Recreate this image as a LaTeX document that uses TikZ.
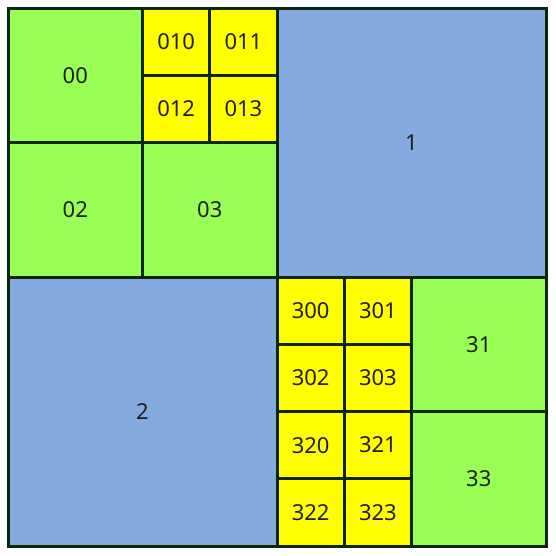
\documentclass[tikz,border=0pt]{standalone}
\usepackage{fontspec}
\setmainfont{Noto Sans}
\usepackage{xcolor}
\definecolor{leafGreen}{RGB}{154,255,85}
\definecolor{leafBlue}{RGB}{133,170,221}
\definecolor{leafYellow}{RGB}{255,255,0}
\definecolor{gridDark}{RGB}{12,38,12}

\begin{document}
\begin{tikzpicture}[x=1pt, y=-1pt,
    cell/.style={draw=gridDark, line width=3pt, inner sep=0pt, outer sep=0pt,
        anchor=north west, font=\fontsize{22}{22}\selectfont, text=black!88},
    big/.style={cell, fill=leafBlue, minimum width=269pt, minimum height=269pt},
    mid/.style={cell, fill=leafGreen, minimum width=134.5pt, minimum height=134.5pt},
    small/.style={cell, fill=leafYellow, minimum width=67.25pt, minimum height=67.25pt}]
    \newcommand\ox{8}
    \newcommand\h{269}
    \newcommand\q{134.5}
    \newcommand\e{67.25}

    \useasboundingbox (0,0) rectangle (556,555);

    % first level
    \node[big] (q1) at (\ox+\h, \ox) {1};
    \node[big] (q2) at (\ox, \ox+\h) {2};

    % quadrant 0
    \node[mid] (q00) at (\ox, \ox) {00};
    \node[small] (q010) at (\ox+\q, \ox) {010};
    \node[small] (q011) at (\ox+\q+\e, \ox) {011};
    \node[small] (q012) at (\ox+\q, \ox+\e) {012};
    \node[small] (q013) at (\ox+\q+\e, \ox+\e) {013};
    \node[mid] (q02) at (\ox, \ox+\q) {02};
    \node[mid] (q03) at (\ox+\q, \ox+\q) {03};

    % quadrant 3
    \node[small] (q300) at (\ox+\h, \ox+\h) {300};
    \node[small] (q301) at (\ox+\h+\e, \ox+\h) {301};
    \node[small] (q302) at (\ox+\h, \ox+\h+\e) {302};
    \node[small] (q303) at (\ox+\h+\e, \ox+\h+\e) {303};
    \node[mid] (q31) at (\ox+\h+\q, \ox+\h) {31};
    \node[small] (q320) at (\ox+\h, \ox+\h+\q) {320};
    \node[small] (q321) at (\ox+\h+\e, \ox+\h+\q) {321};
    \node[small] (q322) at (\ox+\h, \ox+\h+\q+\e) {322};
    \node[small] (q323) at (\ox+\h+\e, \ox+\h+\q+\e) {323};
    \node[mid] (q33) at (\ox+\h+\q, \ox+\h+\q) {33};
\end{tikzpicture}
\end{document}
